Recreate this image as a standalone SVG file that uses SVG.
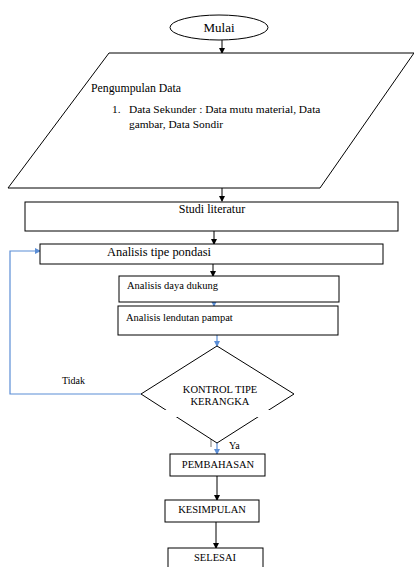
<svg xmlns="http://www.w3.org/2000/svg" width="414" height="567" viewBox="0 0 414 567">
<style>
.s{fill:#fff;stroke:#000;stroke-width:1}
.t{font-family:"Liberation Serif","Times New Roman",serif;fill:#000}
.c{stroke:#000;stroke-width:1;fill:none}
.b{stroke:#5b8ed6;stroke-width:1.2;fill:none}
</style>
<defs>
<marker id="ak" markerWidth="6" markerHeight="6" refX="5" refY="3" orient="auto" markerUnits="userSpaceOnUse"><path d="M0,0L6,3L0,6z" fill="#000"/></marker>
<marker id="ab" markerWidth="6" markerHeight="6" refX="5" refY="3" orient="auto" markerUnits="userSpaceOnUse"><path d="M0,0L6,3L0,6z" fill="#5b8ed6"/></marker>
</defs>
<g id="connectors">
<line class="c" x1="222" y1="40" x2="222" y2="53" marker-end="url(#ak)"/>
<line class="c" x1="222" y1="188" x2="222" y2="201" marker-end="url(#ak)"/>
<line class="c" x1="214" y1="231" x2="214" y2="244" marker-end="url(#ak)"/>
<line class="c" x1="213" y1="264" x2="213" y2="276" marker-end="url(#ak)"/>
<line class="b" x1="214" y1="302" x2="214" y2="306" marker-end="url(#ab)"/>
<line class="b" x1="217" y1="335" x2="217" y2="346" marker-end="url(#ab)"/>
<polyline class="b" points="141,394 10,394 10,251 40,251" marker-end="url(#ab)"/>
<line class="b" x1="217" y1="443" x2="217" y2="454" marker-end="url(#ab)"/>
<line x1="211" y1="435" x2="211" y2="447" stroke="#777" stroke-width="1"/>
<line class="c" x1="217" y1="476" x2="217" y2="500" marker-end="url(#ak)"/>
<line class="c" x1="216" y1="522" x2="216" y2="548" marker-end="url(#ak)"/>
<text class="t" x="62" y="384" font-size="10">Tidak</text>
<text class="t" x="229" y="449" font-size="10">Ya</text>
</g>
<g id="mulai">
<ellipse class="s" cx="219" cy="27.5" rx="49" ry="12.5"/>
<text class="t" x="219" y="32" font-size="13" text-anchor="middle">Mulai</text>
</g>
<g id="pengumpulan">
<polygon class="s" points="109,53 414,53 320,188 8,188"/>
<text class="t" x="91" y="92" font-size="11.8">Pengumpulan Data</text>
<text class="t" x="112" y="113" font-size="11.4">1.</text>
<text class="t" x="129" y="113" font-size="11.4">Data Sekunder : Data mutu material, Data</text>
<text class="t" x="129" y="128" font-size="11.4">gambar, Data Sondir</text>
</g>
<g id="studi">
<rect class="s" x="25" y="202" width="373" height="29"/>
<text class="t" x="212" y="213" font-size="12" text-anchor="middle">Studi literatur</text>
</g>
<g id="tipe">
<rect class="s" x="40" y="244" width="343" height="20"/>
<text class="t" x="107" y="256" font-size="12.4">Analisis tipe pondasi</text>
</g>
<g id="daya">
<rect class="s" x="119" y="276" width="220" height="26"/>
<text class="t" x="127" y="289" font-size="10.5">Analisis daya dukung</text>
</g>
<g id="lendutan">
<rect class="s" x="118" y="306" width="220" height="29"/>
<text class="t" x="126" y="321" font-size="10.5">Analisis lendutan pampat</text>
</g>
<g id="kontrol">
<polygon class="s" points="217,346 294,394 217,443 141,394"/>
<rect x="165" y="410" width="110" height="7" fill="#fff"/>
<text class="t" x="220" y="393" font-size="10.5" text-anchor="middle">KONTROL TIPE</text>
<text class="t" x="220" y="405" font-size="10.5" text-anchor="middle">KERANGKA</text>
</g>
<g id="pembahasan">
<rect class="s" x="170" y="454" width="95" height="22"/>
<text class="t" x="218" y="468" font-size="10.5" text-anchor="middle">PEMBAHASAN</text>
</g>
<g id="kesimpulan">
<rect class="s" x="165" y="500" width="94" height="22"/>
<text class="t" x="212" y="513" font-size="10.5" text-anchor="middle">KESIMPULAN</text>
</g>
<g id="selesai">
<rect class="s" x="168" y="548" width="95" height="25"/>
<text class="t" x="215" y="561" font-size="10.5" text-anchor="middle">SELESAI</text>
</g>
</svg>
